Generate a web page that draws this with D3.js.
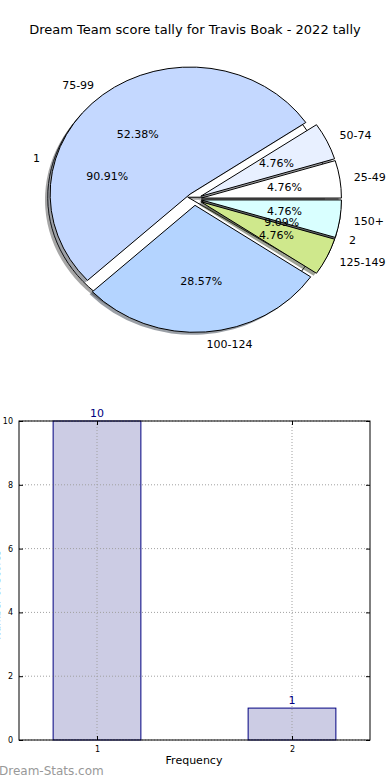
<!DOCTYPE html>
<html>
<head>
<meta charset="utf-8">
<script src="https://cdn.jsdelivr.net/npm/d3@7"></script>
<style>
  body { margin: 0; background: #fff; }
  svg { display: block; font-family: "DejaVu Sans", sans-serif; }
</style>
</head>
<body>
<script>
// score ranges (outer pie), counter-clockwise from 3 o'clock like matplotlib
const scoreLabels = ["25-49", "50-74", "75-99", "100-124", "125-149", "150+"];
const scoreCounts = [1, 1, 11, 6, 1, 1];
const scoreColors = ["#ffffff", "#e8f0ff", "#c4d8ff", "#b4d4ff", "#cfe88c", "#d9ffff"];

// frequency pie drawn underneath
const freqLabels = ["1", "2"];
const freqCounts = [10, 1];
const freqColors = ["#ffffff", "#8c8c8c"];

// bar chart
const barCats = [1, 2];
const barValues = [10, 1];
const yTicks = [0, 2, 4, 6, 8, 10];

const width = 390;
const height = 780;

const svg = d3.select('body')
  .append('svg')
  .attr('width', width)
  .attr('height', height);

svg.append('text')
  .attr('x', 195)
  .attr('y', 34)
  .attr('text-anchor', 'middle')
  .style('font-size', '13px')
  .text('Dream Team score tally for Travis Boak - 2022 tally');

// pie geometry (ellipse, axes not equal)
const cx = 194.5, cy = 199;
const rx = 140, ry = 127;
const explode = 0.05;
const R = 100;

const arc = d3.arc().innerRadius(0).outerRadius(R);
// ccw from 3 o'clock
const pie = d3.pie().sort(null).startAngle(Math.PI / 2).endAngle(Math.PI / 2 - 2 * Math.PI);

function offset(d, f) {
  const a = (d.startAngle + d.endAngle) / 2;
  return [f * rx * Math.sin(a), -f * ry * Math.cos(a)];
}

function drawPie(counts, colors) {
  const arcs = pie(counts);
  const g = svg.append('g');

  // shadows first
  g.selectAll('path.shadow')
    .data(arcs)
    .enter().append('path')
    .attr('class', 'shadow')
    .attr('d', arc)
    .attr('transform', (d) => {
      const o = offset(d, explode);
      return `translate(${cx + o[0] - 0.02 * rx},${cy + o[1] + 0.02 * ry}) scale(${rx / R},${ry / R})`;
    })
    .attr('fill', (d, i) => {
      const c = d3.rgb(colors[i]);
      return d3.rgb(c.r * 0.3, c.g * 0.3, c.b * 0.3).toString();
    })
    .attr('opacity', 0.5);

  g.selectAll('path.wedge')
    .data(arcs)
    .enter().append('path')
    .attr('class', 'wedge')
    .attr('d', arc)
    .attr('transform', (d) => {
      const o = offset(d, explode);
      return `translate(${cx + o[0]},${cy + o[1]}) scale(${rx / R},${ry / R})`;
    })
    .attr('fill', (d, i) => colors[i])
    .attr('stroke', '#000')
    .attr('stroke-width', 1)
    .attr('vector-effect', 'non-scaling-stroke');

  return arcs;
}

function drawLabels(arcs, labels, counts) {
  const total = d3.sum(counts);
  const g = svg.append('g').style('font-size', '11px');
  arcs.forEach((d, i) => {
    const a = (d.startAngle + d.endAngle) / 2;
    const sx = Math.sin(a), sy = -Math.cos(a);
    const lx = cx + (1.1 + explode) * rx * sx;
    const ly = cy + (1.1 + explode) * ry * sy;
    g.append('text')
      .attr('x', lx)
      .attr('y', ly)
      .attr('dy', '0.35em')
      .attr('text-anchor', sx > 0 ? 'start' : 'end')
      .text(labels[i]);
    const px = cx + (0.6 + explode) * rx * sx;
    const py = cy + (0.6 + explode) * ry * sy;
    g.append('text')
      .attr('x', px)
      .attr('y', py)
      .attr('dy', '0.35em')
      .attr('text-anchor', 'middle')
      .text((counts[i] / total * 100).toFixed(2) + '%');
  });
}

const freqArcs = drawPie(freqCounts, freqColors);
const scoreArcs = drawPie(scoreCounts, scoreColors);
drawLabels(scoreArcs, scoreLabels, scoreCounts);
drawLabels(freqArcs, freqLabels, freqCounts);

// ---- bar chart ----
const plotL = 19, plotR = 370, plotT = 421, plotB = 740;
const x = d3.scaleLinear().domain([0.6, 2.4]).range([plotL, plotR]);
const y = d3.scaleLinear().domain([0, 10]).range([plotB, plotT]);
const barW = 0.45;

const bars = svg.append('g');

bars.selectAll('rect')
  .data(barCats)
  .enter().append('rect')
  .attr('x', (d) => x(d - barW / 2))
  .attr('y', (d, i) => y(barValues[i]))
  .attr('width', (d) => x(d + barW / 2) - x(d - barW / 2))
  .attr('height', (d, i) => y(0) - y(barValues[i]))
  .attr('fill', '#ccccE4')
  .attr('stroke', '#000080')
  .attr('stroke-width', 1);

// grid
const grid = svg.append('g')
  .attr('stroke', '#a0a0a0')
  .attr('stroke-width', 1)
  .attr('stroke-dasharray', '1,2');
yTicks.forEach((t) => {
  grid.append('line')
    .attr('x1', plotL).attr('x2', plotR)
    .attr('y1', y(t)).attr('y2', y(t));
});
barCats.forEach((c) => {
  grid.append('line')
    .attr('x1', x(c)).attr('x2', x(c))
    .attr('y1', plotT).attr('y2', plotB);
});

// axes with inward ticks
const yAxis = d3.axisLeft(y).tickValues(yTicks).tickSizeInner(-4).tickSizeOuter(0).tickPadding(6);
const yAxisR = d3.axisRight(y).tickValues(yTicks).tickSizeInner(-4).tickSizeOuter(0).tickFormat('');
const xAxis = d3.axisBottom(x).tickValues(barCats).tickFormat(d3.format('d'))
  .tickSizeInner(-4).tickSizeOuter(0).tickPadding(6);
const xAxisT = d3.axisTop(x).tickValues(barCats).tickSizeInner(-4).tickSizeOuter(0).tickFormat('');

function styleAxis(g) {
  g.select('.domain').remove();
  g.selectAll('text').style('font-size', '8px').attr('fill', '#000')
    .style('font-family', '"DejaVu Sans", sans-serif');
  g.selectAll('line').attr('stroke', '#000');
}

svg.append('g').attr('transform', `translate(${plotL},0)`).call(yAxis).call(styleAxis);
svg.append('g').attr('transform', `translate(${plotR},0)`).call(yAxisR).call(styleAxis);
svg.append('g').attr('transform', `translate(0,${plotB})`).call(xAxis).call(styleAxis);
svg.append('g').attr('transform', `translate(0,${plotT})`).call(xAxisT).call(styleAxis);

svg.append('rect')
  .attr('x', plotL).attr('y', plotT)
  .attr('width', plotR - plotL).attr('height', plotB - plotT)
  .attr('fill', 'none')
  .attr('stroke', '#000')
  .attr('stroke-width', 1);

// value labels
svg.append('g').selectAll('text')
  .data(barCats)
  .enter().append('text')
  .attr('x', (d) => x(d))
  .attr('y', (d, i) => y(barValues[i]) - 4)
  .attr('text-anchor', 'middle')
  .attr('fill', '#000080')
  .style('font-size', '11px')
  .text((d, i) => barValues[i]);

svg.append('text')
  .attr('x', 194)
  .attr('y', 764)
  .attr('text-anchor', 'middle')
  .style('font-size', '11px')
  .text('Frequency');

// y label sits mostly off the left edge, as in the original
svg.append('text')
  .attr('transform', 'translate(0,595) rotate(-90)')
  .attr('text-anchor', 'middle')
  .style('font-size', '10px')
  .text('Number of Scores');

svg.append('text')
  .attr('x', -1)
  .attr('y', 775)
  .attr('fill', '#999')
  .style('font-size', '12px')
  .text('Dream-Stats.com');
</script>
</body>
</html>
